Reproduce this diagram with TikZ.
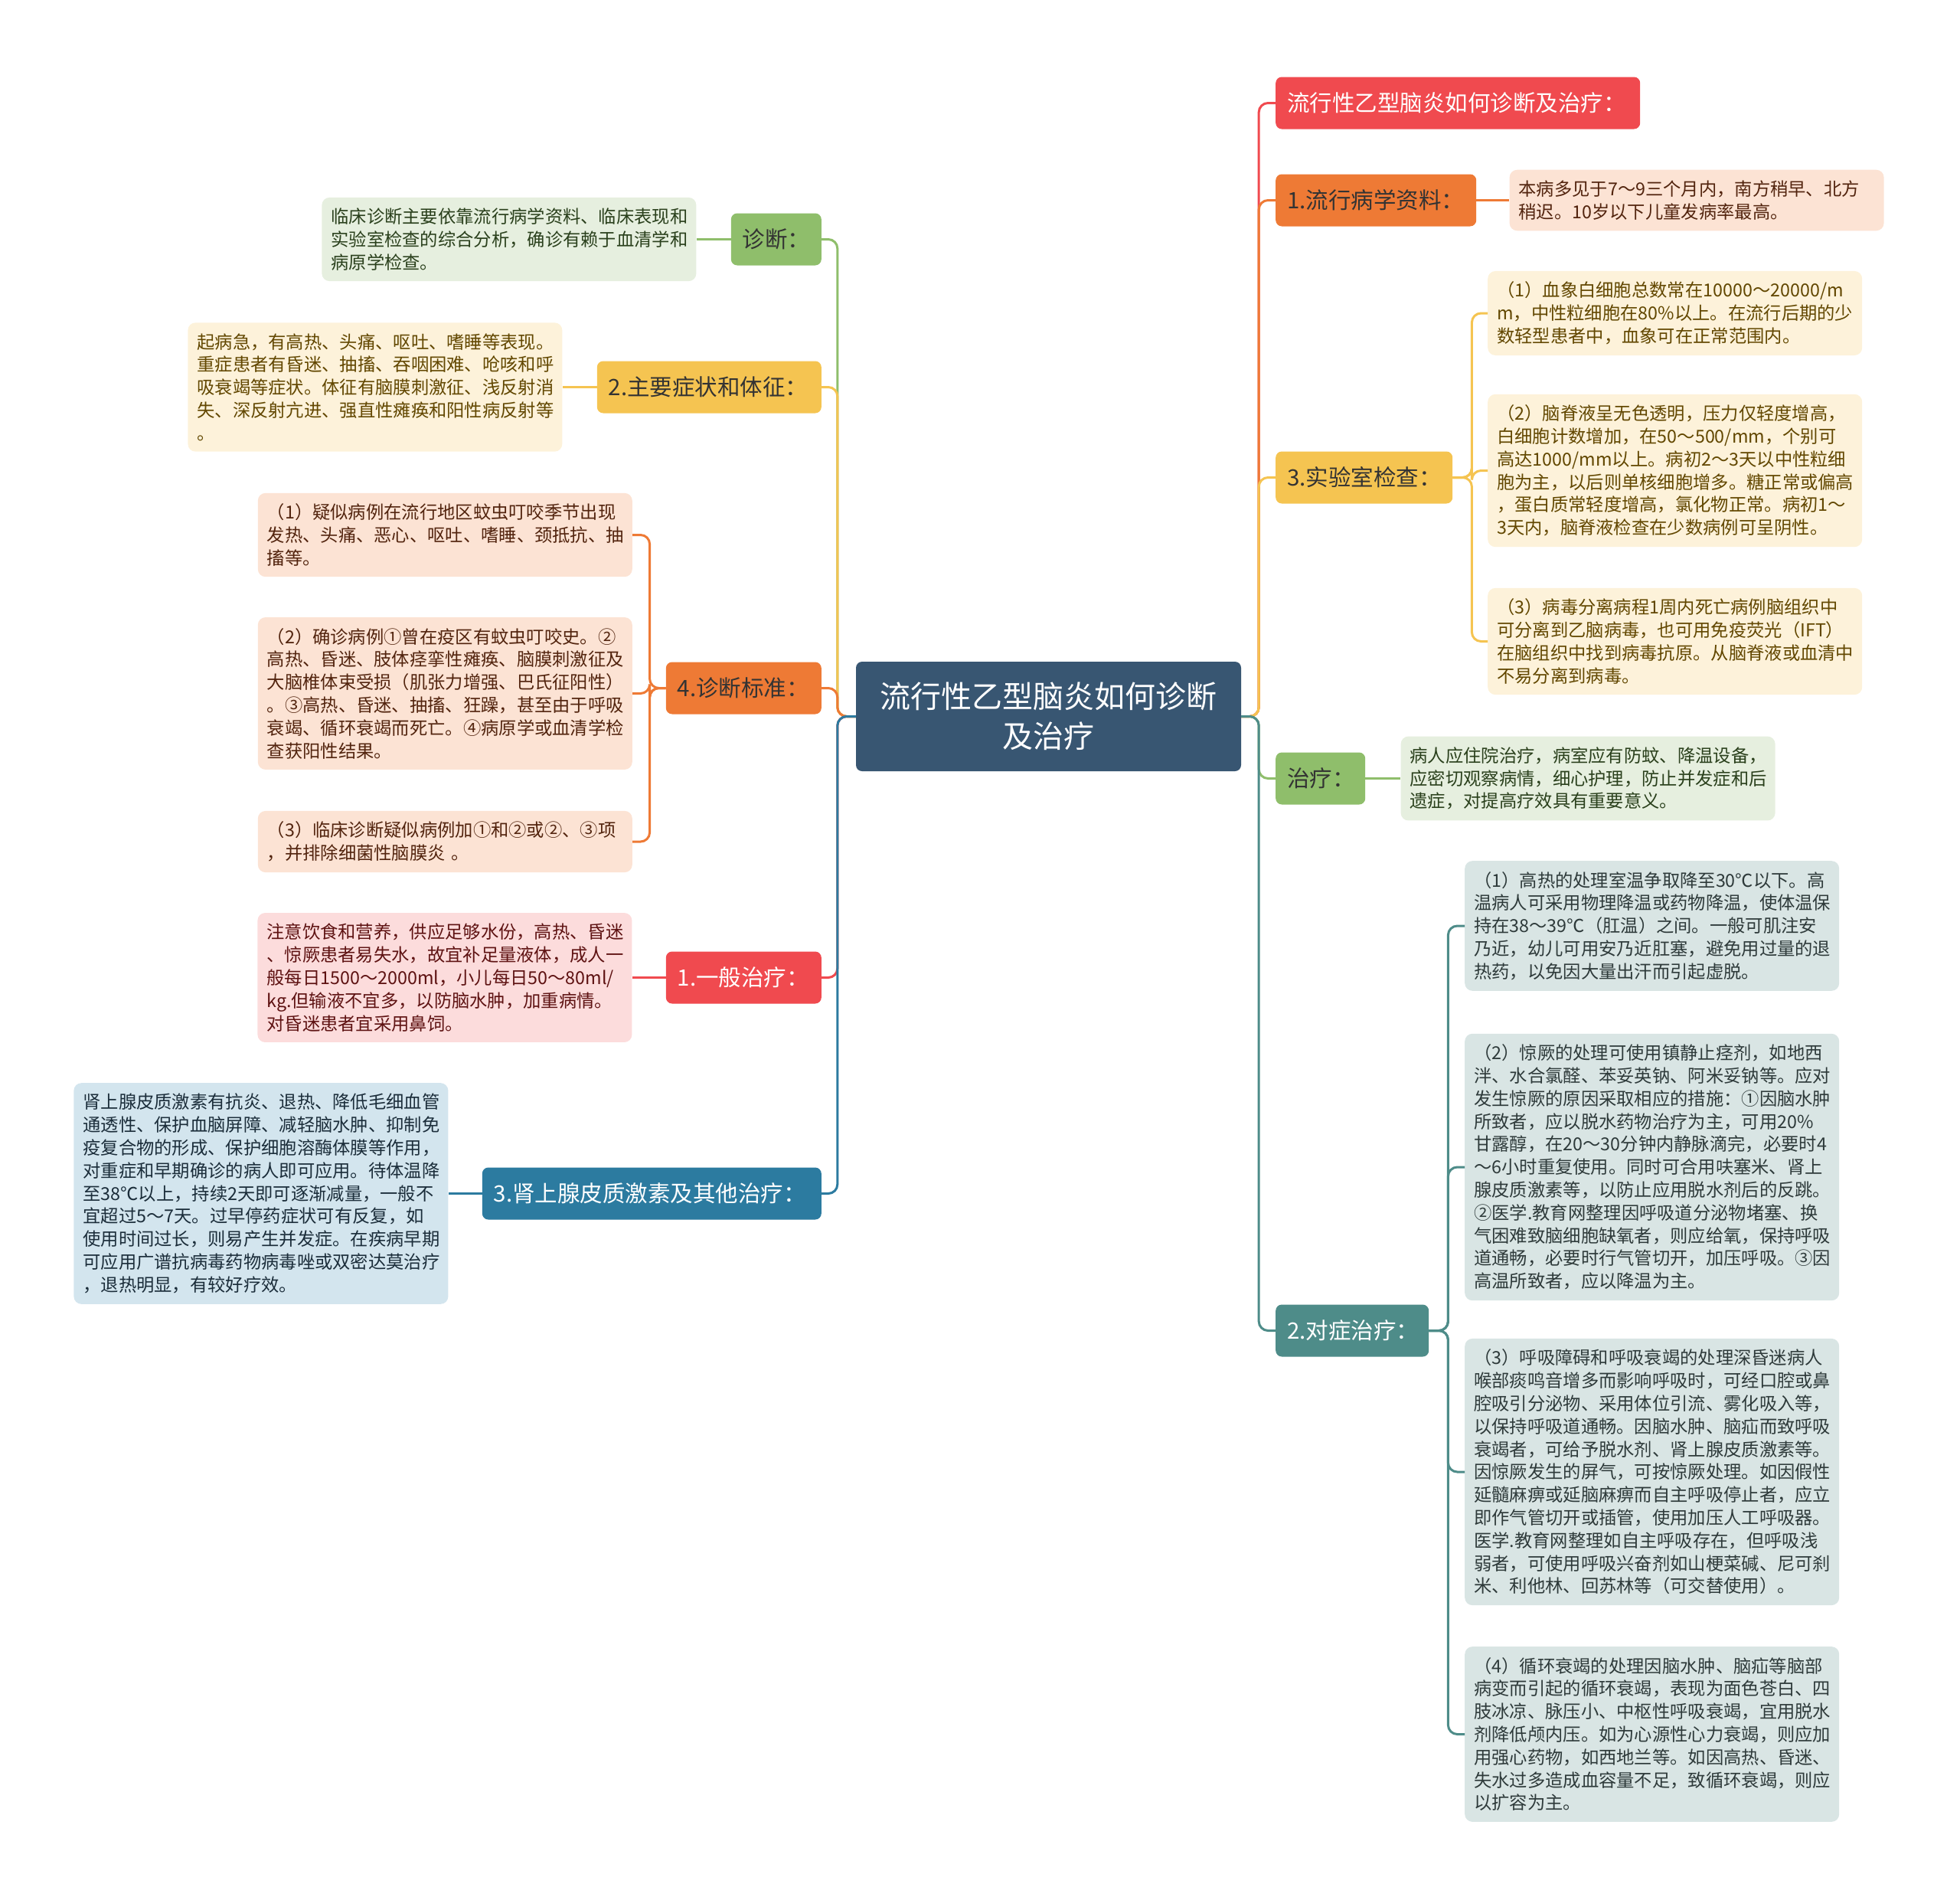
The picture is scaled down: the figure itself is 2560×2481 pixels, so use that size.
\documentclass[tikz,border=0pt]{standalone}
\usepackage{fontspec}
\setmainfont{Noto Sans CJK SC}
\usepackage{tikz}
\usetikzlibrary{positioning}

\definecolor{rootc}{HTML}{385672}
\definecolor{redc}{HTML}{F04A4F}
\definecolor{orangec}{HTML}{EE7A35}
\definecolor{yellowc}{HTML}{F5C451}
\definecolor{greenc}{HTML}{8FBE6B}
\definecolor{tealc}{HTML}{4E8C89}
\definecolor{bluec}{HTML}{2C7BA0}
\definecolor{redL}{HTML}{FCDCDC}
\definecolor{orangeL}{HTML}{FCE3D4}
\definecolor{yellowL}{HTML}{FDF2DA}
\definecolor{greenL}{HTML}{E6EFDF}
\definecolor{tealL}{HTML}{D9E5E4}
\definecolor{blueL}{HTML}{D3E5EE}
\definecolor{redT}{HTML}{5E1212}
\definecolor{orangeT}{HTML}{52240E}
\definecolor{yellowT}{HTML}{624700}
\definecolor{greenT}{HTML}{2A401C}
\definecolor{tealT}{HTML}{2E3A3A}
\definecolor{blueT}{HTML}{1B2D3A}

\tikzset{
  rootbox/.style={fill=rootc, text=white, rounded corners=8pt, minimum width=503pt,
    minimum height=143pt, align=center, font=\fontsize{40}{52}\selectfont},
  topic/.style={rounded corners=8pt, minimum height=68pt, inner xsep=15pt, inner ysep=0pt,
    text width=#1, align=left, font=\fontsize{29.5}{34}\selectfont},
  leaf/.style={rounded corners=10pt, text width=465pt, inner xsep=12pt, inner ysep=14pt,
    align=left, font=\fontsize{23.3}{29.8}\selectfont},
  link/.style={line width=3pt, rounded corners=12pt},
}

\begin{document}
\begin{tikzpicture}[x=1pt,y=-1pt]
    \useasboundingbox (0,0) rectangle (2560,2481);

    % Central topic
    \node[rootbox] (root) at (1369.5,935.5) {流行性乙型脑炎如何诊断\\及治疗};

    % Right topics
    \node[topic=446pt, fill=redc, text=white, anchor=west] (title) at (1666,134.5) {流行性乙型脑炎如何诊断及治疗：};
    \node[topic=232pt, fill=orangec, text=black!80, anchor=west] (epi) at (1666,261.5) {1.流行病学资料：};
    \node[topic=201pt, fill=yellowc, text=black!80, anchor=west] (lab) at (1666,623.5) {3.实验室检查：};
    \node[topic=87pt, fill=greenc, text=black!80, anchor=west] (treat) at (1666,1016.5) {治疗：};
    \node[topic=170pt, fill=tealc, text=white, anchor=west] (sym) at (1666,1737.5) {2.对症治疗：};

    % Left topics
    \node[topic=88pt, fill=greenc, text=black!80, anchor=east] (diag) at (1073,312.5) {诊断：};
    \node[topic=263pt, fill=yellowc, text=black!80, anchor=east] (symp) at (1073,505.5) {2.主要症状和体征：};
    \node[topic=173pt, fill=orangec, text=black!80, anchor=east] (crit) at (1073,898.5) {4.诊断标准：};
    \node[topic=173pt, fill=redc, text=white, anchor=east] (gen) at (1073,1276.5) {1.一般治疗：};
    \node[topic=413pt, fill=bluec, text=white, anchor=east] (horm) at (1073,1558.5) {3.肾上腺皮质激素及其他治疗：};

    % Right leaves
    \node[leaf, fill=orangeL, text=orangeT, right=43pt of epi] (epiL) {本病多见于7～9三个月内，南方稍早、北方\\稍迟。10岁以下儿童发病率最高。};
    \node[leaf, fill=yellowL, text=yellowT, anchor=west] (lab1) at (1943,409) {（1）血象白细胞总数常在10000～20000/m\\m，中性粒细胞在80\%以上。在流行后期的少\\数轻型患者中，血象可在正常范围内。};
    \node[leaf, fill=yellowL, text=yellowT, anchor=west] (lab2) at (1943,614.5) {（2）脑脊液呈无色透明，压力仅轻度增高，\\白细胞计数增加，在50～500/mm，个别可\\高达1000/mm以上。病初2～3天以中性粒细\\胞为主，以后则单核细胞增多。糖正常或偏高\\，蛋白质常轻度增高，氯化物正常。病初1～\\3天内，脑脊液检查在少数病例可呈阴性。};
    \node[leaf, fill=yellowL, text=yellowT, anchor=west] (lab3) at (1943,837.5) {（3）病毒分离病程1周内死亡病例脑组织中\\可分离到乙脑病毒，也可用免疫荧光（IFT）\\在脑组织中找到病毒抗原。从脑脊液或血清中\\不易分离到病毒。};
    \node[leaf, fill=greenL, text=greenT, right=46pt of treat] (treatL) {病人应住院治疗，病室应有防蚊、降温设备，\\应密切观察病情，细心护理，防止并发症和后\\遗症，对提高疗效具有重要意义。};
    \node[leaf, fill=tealL, text=tealT, anchor=west] (sym1) at (1913,1209) {（1）高热的处理室温争取降至30℃以下。高\\温病人可采用物理降温或药物降温，使体温保\\持在38～39℃（肛温）之间。一般可肌注安\\乃近，幼儿可用安乃近肛塞，避免用过量的退\\热药，以免因大量出汗而引起虚脱。};
    \node[leaf, fill=tealL, text=tealT, anchor=west] (sym2) at (1913,1524) {（2）惊厥的处理可使用镇静止痉剂，如地西\\泮、水合氯醛、苯妥英钠、阿米妥钠等。应对\\发生惊厥的原因采取相应的措施：①因脑水肿\\所致者，应以脱水药物治疗为主，可用20\%\\甘露醇，在20～30分钟内静脉滴完，必要时4\\～6小时重复使用。同时可合用呋塞米、肾上\\腺皮质激素等，以防止应用脱水剂后的反跳。\\②医学.教育网整理因呼吸道分泌物堵塞、换\\气困难致脑细胞缺氧者，则应给氧，保持呼吸\\道通畅，必要时行气管切开，加压呼吸。③因\\高温所致者，应以降温为主。};
    \node[leaf, fill=tealL, text=tealT, anchor=west] (sym3) at (1913,1922) {（3）呼吸障碍和呼吸衰竭的处理深昏迷病人\\喉部痰鸣音增多而影响呼吸时，可经口腔或鼻\\腔吸引分泌物、采用体位引流、雾化吸入等，\\以保持呼吸道通畅。因脑水肿、脑疝而致呼吸\\衰竭者，可给予脱水剂、肾上腺皮质激素等。\\因惊厥发生的屏气，可按惊厥处理。如因假性\\延髓麻痹或延脑麻痹而自主呼吸停止者，应立\\即作气管切开或插管，使用加压人工呼吸器。\\医学.教育网整理如自主呼吸存在，但呼吸浅\\弱者，可使用呼吸兴奋剂如山梗菜碱、尼可刹\\米、利他林、回苏林等（可交替使用）。};
    \node[leaf, fill=tealL, text=tealT, anchor=west] (sym4) at (1913,2264.5) {（4）循环衰竭的处理因脑水肿、脑疝等脑部\\病变而引起的循环衰竭，表现为面色苍白、四\\肢冰凉、脉压小、中枢性呼吸衰竭，宜用脱水\\剂降低颅内压。如为心源性心力衰竭，则应加\\用强心药物，如西地兰等。如因高热、昏迷、\\失水过多造成血容量不足，致循环衰竭，则应\\以扩容为主。};

    % Left leaves
    \node[leaf, fill=greenL, text=greenT, left=45pt of diag] (diagL) {临床诊断主要依靠流行病学资料、临床表现和\\实验室检查的综合分析，确诊有赖于血清学和\\病原学检查。};
    \node[leaf, fill=yellowL, text=yellowT, left=45pt of symp] (sympL) {起病急，有高热、头痛、呕吐、嗜睡等表现。\\重症患者有昏迷、抽搐、吞咽困难、呛咳和呼\\吸衰竭等症状。体征有脑膜刺激征、浅反射消\\失、深反射亢进、强直性瘫痪和阳性病反射等\\。};
    \node[leaf, fill=orangeL, text=orangeT, anchor=east] (crit1) at (826,698.5) {（1）疑似病例在流行地区蚊虫叮咬季节出现\\发热、头痛、恶心、呕吐、嗜睡、颈抵抗、抽\\搐等。};
    \node[leaf, fill=orangeL, text=orangeT, anchor=east] (crit2) at (826,905.5) {（2）确诊病例①曾在疫区有蚊虫叮咬史。②\\高热、昏迷、肢体痉挛性瘫痪、脑膜刺激征及\\大脑椎体束受损（肌张力增强、巴氏征阳性）\\。③高热、昏迷、抽搐、狂躁，甚至由于呼吸\\衰竭、循环衰竭而死亡。④病原学或血清学检\\查获阳性结果。};
    \node[leaf, fill=orangeL, text=orangeT, anchor=east] (crit3) at (826,1099) {（3）临床诊断疑似病例加①和②或②、③项\\，并排除细菌性脑膜炎 。};
    \node[leaf, fill=redL, text=redT, left=44pt of gen] (genL) {注意饮食和营养，供应足够水份，高热、昏迷\\、惊厥患者易失水，故宜补足量液体，成人一\\般每日1500～2000ml，小儿每日50～80ml/\\kg.但输液不宜多，以防脑水肿，加重病情。\\对昏迷患者宜采用鼻饲。};
    \node[leaf, fill=blueL, text=blueT, left=44pt of horm] (hormL) {肾上腺皮质激素有抗炎、退热、降低毛细血管\\通透性、保护血脑屏障、减轻脑水肿、抑制免\\疫复合物的形成、保护细胞溶酶体膜等作用，\\对重症和早期确诊的病人即可应用。待体温降\\至38℃以上，持续2天即可逐渐减量，一般不\\宜超过5～7天。过早停药症状可有反复，如\\使用时间过长，则易产生并发症。在疾病早期\\可应用广谱抗病毒药物病毒唑或双密达莫治疗\\，退热明显，有较好疗效。};

    % Branches from the centre
    \draw[link, greenc] (root.west) -- ++(-24,0) |- (diag.east);
    \draw[link, yellowc] (root.west) -- ++(-24,0) |- (symp.east);
    \draw[link, orangec] (root.west) -- ++(-24,0) |- (crit.east);
    \draw[link, redc] (root.west) -- ++(-24,0) |- (gen.east);
    \draw[link, bluec] (root.west) -- ++(-24,0) |- (horm.east);
    \draw[link, redc] (root.east) -- ++(23,0) |- (title.west);
    \draw[link, orangec] (root.east) -- ++(23,0) |- (epi.west);
    \draw[link, yellowc] (root.east) -- ++(23,0) |- (lab.west);
    \draw[link, greenc] (root.east) -- ++(23,0) |- (treat.west);
    \draw[link, tealc] (root.east) -- ++(23,0) |- (sym.west);

    % Leaf links
    \draw[link, orangec] (epi.east) -- (epiL.west);
    \draw[link, greenc] (treat.east) -- (treatL.west);
    \draw[link, greenc] (diag.west) -- (diagL.east);
    \draw[link, yellowc] (symp.west) -- (sympL.east);
    \draw[link, redc] (gen.west) -- (genL.east);
    \draw[link, bluec] (horm.west) -- (hormL.east);
    \foreach \n in {lab1,lab2,lab3}
      \draw[link, yellowc] (lab.east) -- ++(25,0) |- (\n.west);
    \foreach \n in {sym1,sym2,sym3,sym4}
      \draw[link, tealc] (sym.east) -- ++(25,0) |- (\n.west);
    \foreach \n in {crit1,crit2,crit3}
      \draw[link, orangec] (crit.west) -- ++(-21,0) |- (\n.east);
\end{tikzpicture}
\end{document}
